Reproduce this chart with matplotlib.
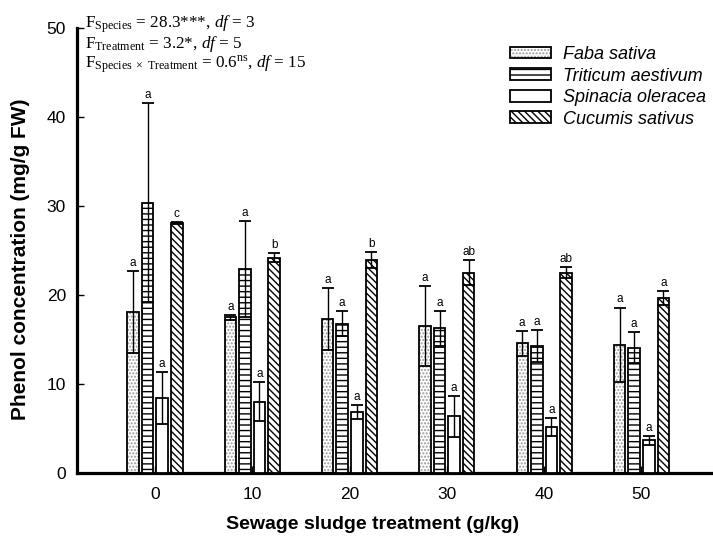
import numpy as np
import matplotlib
matplotlib.use("Agg")
import matplotlib.pyplot as plt
from matplotlib.patches import Patch
from matplotlib.legend_handler import HandlerTuple

plt.rcParams['font.family'] = ['Liberation Sans', 'DejaVu Sans']
plt.rcParams['mathtext.fontset'] = 'custom'
plt.rcParams['mathtext.rm'] = 'Liberation Serif'
plt.rcParams['mathtext.it'] = 'Liberation Serif:italic'
plt.rcParams['hatch.linewidth'] = 1.0

# data
treatments = ['0', '10', '20', '30', '40', '50']
species = ['Faba sativa', 'Triticum aestivum', 'Spinacia oleracea', 'Cucumis sativus']

faba = [18.1, 17.5, 17.3, 16.5, 14.6, 14.4]
faba_sd = [4.6, 0.3, 3.5, 4.5, 1.4, 4.2]
triticum = [30.4, 22.9, 16.8, 16.25, 14.3, 14.1]
triticum_sd = [11.2, 5.4, 1.4, 1.95, 1.8, 1.7]
spinacia = [8.4, 8.0, 6.85, 6.4, 5.2, 3.7]
spinacia_sd = [2.9, 2.2, 0.8, 2.3, 1.0, 0.5]
cucumis = [28.1, 24.2, 23.9, 22.5, 22.5, 19.7]
cucumis_sd = [0.15, 0.5, 0.9, 1.4, 0.6, 0.8]

letters_faba = ['a', 'a', 'a', 'a', 'a', 'a']
letters_triticum = ['a', 'a', 'a', 'a', 'a', 'a']
letters_spinacia = ['a', 'a', 'a', 'a', 'a', 'a']
letters_cucumis = ['c', 'b', 'b', 'ab', 'ab', 'a']

means = [faba, triticum, spinacia, cucumis]
sds = [faba_sd, triticum_sd, spinacia_sd, cucumis_sd]
letters = [letters_faba, letters_triticum, letters_spinacia, letters_cucumis]
hatches = ['.....', '---', '', '\\\\\\\\\\']

fig = plt.figure(figsize=(7.13, 5.40), dpi=100)
ax = fig.add_axes([0.108, 0.124, 0.892, 0.824])

x = np.arange(len(treatments))
width = 0.118
offsets = [-0.225, -0.075, 0.075, 0.225]

handles = []
for i in range(4):
    xi = x + offsets[i]
    if i == 0:
        # grey stipple, black outline
        ax.bar(xi, means[i], width, color='white', edgecolor='#999999',
               hatch=hatches[i], linewidth=0, zorder=2)
        ax.bar(xi, means[i], width, facecolor='none', edgecolor='black',
               linewidth=1.3, zorder=3)
        handles.append((Patch(facecolor='white', edgecolor='#999999', hatch=hatches[i], linewidth=0),
                        Patch(facecolor='none', edgecolor='black', linewidth=1.3)))
    else:
        ax.bar(xi, means[i], width, color='white', edgecolor='black',
               hatch=hatches[i], linewidth=1.3, zorder=3)
        handles.append(Patch(facecolor='white', edgecolor='black', hatch=hatches[i], linewidth=1.3))
    ax.errorbar(xi, means[i], yerr=sds[i], fmt='none', ecolor='black',
                elinewidth=1.0, capsize=4.2, capthick=1.3, zorder=4)
    for xx, m, s, lab in zip(xi, means[i], sds[i], letters[i]):
        ax.annotate(lab, (xx, m + s), xytext=(0, 1.5), textcoords='offset points',
                    ha='center', va='bottom', fontsize=8.5)

ax.set_xlim(-0.8, 5.735)
ax.set_ylim(0, 50)
ax.set_yticks([0, 10, 20, 30, 40, 50])
ax.set_xticks(x)
ax.set_xticklabels(treatments)
ax.tick_params(axis='both', direction='in', length=5, width=1, labelsize=12.5)
ax.tick_params(axis='y', pad=8)
ax.tick_params(axis='x', pad=10)
for s in ['top', 'right']:
    ax.spines[s].set_visible(False)
ax.spines['left'].set_linewidth(2.3)
ax.spines['bottom'].set_linewidth(2.3)

ax.set_xlabel('Sewage sludge treatment (g/kg)', fontsize=14, fontweight='bold')
ax.xaxis.set_label_coords(0.464, -0.096)
ax.set_ylabel('Phenol concentration (mg/g FW)', fontsize=15, fontweight='bold')
ax.yaxis.set_label_coords(-0.074, 0.48)

stats = [r'F$_{\mathrm{Species}}$ = 28.3***, $df$ = 3',
         r'F$_{\mathrm{Treatment}}$ = 3.2*, $df$ = 5',
         r'F$_{\mathrm{Species\ \times\ Treatment}}$ = 0.6$^{\mathrm{ns}}$, $df$ = 15']
for k, line in enumerate(stats):
    fig.text(85 / 713, 1 - (24 + 20 * k) / 540, line, family='Liberation Serif',
             fontsize=12.3, va='center', ha='left')

ax.legend(handles, species, handler_map={tuple: HandlerTuple(ndivide=1, pad=0)},
          loc='upper left', bbox_to_anchor=(510 / 713, 1 - 46 / 540),
          bbox_transform=fig.transFigure, frameon=False,
          prop={'style': 'italic', 'size': 13}, handlelength=2.27, handleheight=0.62,
          labelspacing=0.25, handletextpad=0.65, borderpad=0, borderaxespad=0)

fig.savefig('out.png', dpi=100)
